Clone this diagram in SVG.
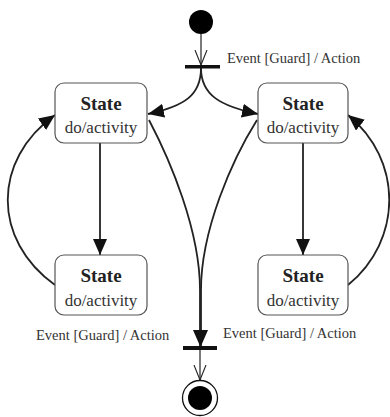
<svg xmlns="http://www.w3.org/2000/svg" width="390" height="417" viewBox="0 0 390 417">
<style>
.box{fill:#fff;stroke:#555;stroke-width:1.2}
.name{font-family:"Liberation Serif",serif;font-weight:bold;font-size:19px;fill:#222;text-anchor:middle}
.act{font-family:"Liberation Serif",serif;font-size:17px;fill:#333;text-anchor:middle}
.lbl{font-family:"Liberation Serif",serif;font-size:14.5px;fill:#333}
.edge{fill:none;stroke:#222;stroke-width:1.8}
.thin{fill:none;stroke:#222;stroke-width:1.2}
.bar{fill:#111}
</style>
<defs>
<marker id="fa" markerUnits="userSpaceOnUse" markerWidth="16" markerHeight="14" refX="16" refY="7" orient="auto">
<path d="M0,0 L16,7 L0,14 z" fill="#111"/>
</marker>
<marker id="oa" markerUnits="userSpaceOnUse" markerWidth="16" markerHeight="14" refX="15" refY="7" orient="auto">
<path d="M0,1 L15,7 L0,13" fill="none" stroke="#222" stroke-width="1.1"/>
</marker>
</defs>
<g id="connectors">
<path class="thin" d="M201,34 L201,65" marker-end="url(#oa)"/>
<path class="edge" d="M201,68 C201,95 185,106 148,114" marker-end="url(#fa)"/>
<path class="edge" d="M201,68 C201,95 220,106 258,114" marker-end="url(#fa)"/>
<path class="edge" d="M100,143 L100,255" marker-end="url(#fa)"/>
<path class="edge" d="M303,143 L303,255" marker-end="url(#fa)"/>
<path class="edge" d="M55,285 C-8,240 -8,160 55,115" marker-end="url(#fa)"/>
<path class="edge" d="M348,285 C403,240 403,160 348,115" marker-end="url(#fa)"/>
<path class="edge" d="M149,120 C170,160 200,230 200,290 L200,346" marker-end="url(#fa)"/>
<path class="edge" d="M257,120 C232,160 201,230 201,290 L201,346" marker-end="url(#fa)"/>
<path class="thin" d="M200,350 L200,380" marker-end="url(#oa)"/>
</g>
<g id="initial">
<circle cx="201" cy="22" r="12" fill="#000"/>
</g>
<g id="fork">
<rect class="bar" x="185" y="65" width="35" height="3.5"/>
<text class="lbl" x="227" y="63">Event [Guard] / Action</text>
</g>
<g id="state1">
<rect class="box" x="55" y="83" width="92" height="60" rx="9"/>
<text class="name" x="101" y="110">State</text>
<text class="act" x="101" y="133">do/activity</text>
</g>
<g id="state2">
<rect class="box" x="258" y="83" width="90" height="60" rx="9"/>
<text class="name" x="303" y="110">State</text>
<text class="act" x="303" y="133">do/activity</text>
</g>
<g id="state3">
<rect class="box" x="55" y="255" width="92" height="60" rx="9"/>
<text class="name" x="101" y="282">State</text>
<text class="act" x="101" y="306">do/activity</text>
</g>
<g id="state4">
<rect class="box" x="258" y="255" width="90" height="60" rx="9"/>
<text class="name" x="303" y="282">State</text>
<text class="act" x="303" y="306">do/activity</text>
</g>
<g id="join">
<rect class="bar" x="183" y="346" width="34" height="4"/>
<text class="lbl" x="36" y="340">Event [Guard] / Action</text>
<text class="lbl" x="223" y="338">Event [Guard] / Action</text>
</g>
<g id="final">
<circle cx="200" cy="398" r="17.5" fill="#fff" stroke="#111" stroke-width="1.3"/>
<circle cx="200" cy="398" r="12" fill="#000"/>
</g>
</svg>
